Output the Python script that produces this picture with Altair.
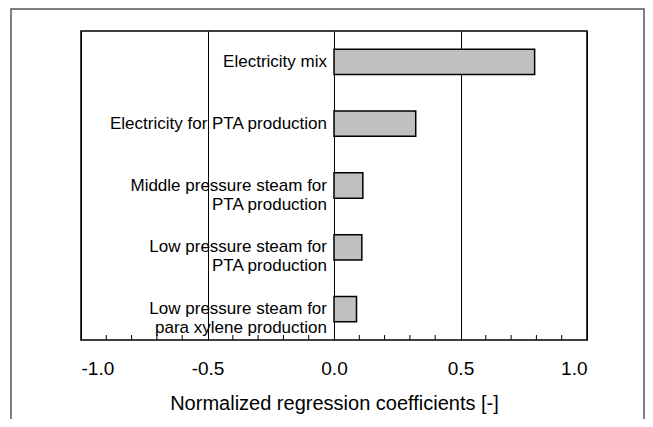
import altair as alt
import pandas as pd

categories = [
    "Electricity mix",
    "Electricity for PTA production",
    "Middle pressure steam for\nPTA production",
    "Low pressure steam for\nPTA production",
    "Low pressure steam for\npara xylene production",
]
values = [0.793, 0.323, 0.114, 0.110, 0.089]
major_ticks = [-1.0, -0.5, 0.0, 0.5, 1.0]
minor_ticks = [-0.9, -0.8, -0.7, -0.6, -0.4, -0.3, -0.2, -0.1,
               0.1, 0.2, 0.3, 0.4, 0.6, 0.7, 0.8, 0.9]

FONT = "Liberation Sans"
W, H = 506, 309

df = pd.DataFrame({"cat": categories, "val": values})
ticks_df = pd.DataFrame({"t": minor_ticks})

xscale = alt.Scale(domain=[-1, 1], nice=False, zero=False)
yscale = alt.Scale(domain=categories, paddingInner=0.59, paddingOuter=0.295)

xaxis = alt.Axis(
    values=major_ticks, grid=True, gridColor="black",
    labelExpr="datum.value < 0 ? '-' + format(-datum.value, '.1f') : format(datum.value, '.1f')",
    gridOpacity=1, gridWidth=1, ticks=False, domain=False,
    labelFont=FONT, labelFontSize=19, labelColor="black", labelPadding=19,
    title="Normalized regression coefficients [-]", titleFont=FONT,
    titleFontSize=20, titleFontWeight="normal", titleColor="black",
    titlePadding=15,
)

bars = alt.Chart(df).mark_bar(
    color="#c0c0c0", stroke="black", strokeWidth=1.5
).encode(
    x=alt.X("val:Q", scale=xscale, axis=xaxis),
    y=alt.Y("cat:N", scale=yscale, axis=None, sort=categories),
)

labels = alt.Chart(df).mark_text(
    align="right", baseline="middle", dx=-7, font=FONT, fontSize=17,
    lineBreak="\n", lineHeight=19, color="black"
).encode(
    x=alt.datum(0),
    y=alt.Y("cat:N", scale=yscale, axis=None, sort=categories),
    text="cat:N",
)

minor = alt.Chart(ticks_df).mark_rule(color="black", strokeWidth=1).encode(
    x=alt.X("t:Q", scale=xscale),
    y=alt.value(H),
    y2=alt.value(H - 5),
)

border = alt.Chart(pd.DataFrame({"a": [0]})).mark_rect(
    fill="transparent", stroke="#555555", strokeWidth=1.5
).encode(
    x=alt.value(-70), x2=alt.value(563),
    y=alt.value(-22), y2=alt.value(H + 120),
)

chart = alt.layer(border, bars, minor, labels).properties(
    width=W, height=H,
    padding={"left": 73, "top": 23, "right": 58, "bottom": 79},
    autosize="none",
).configure_view(stroke="black", strokeWidth=1.5)

chart.save("out.html", embed_options={"renderer": "svg", "actions": False})
